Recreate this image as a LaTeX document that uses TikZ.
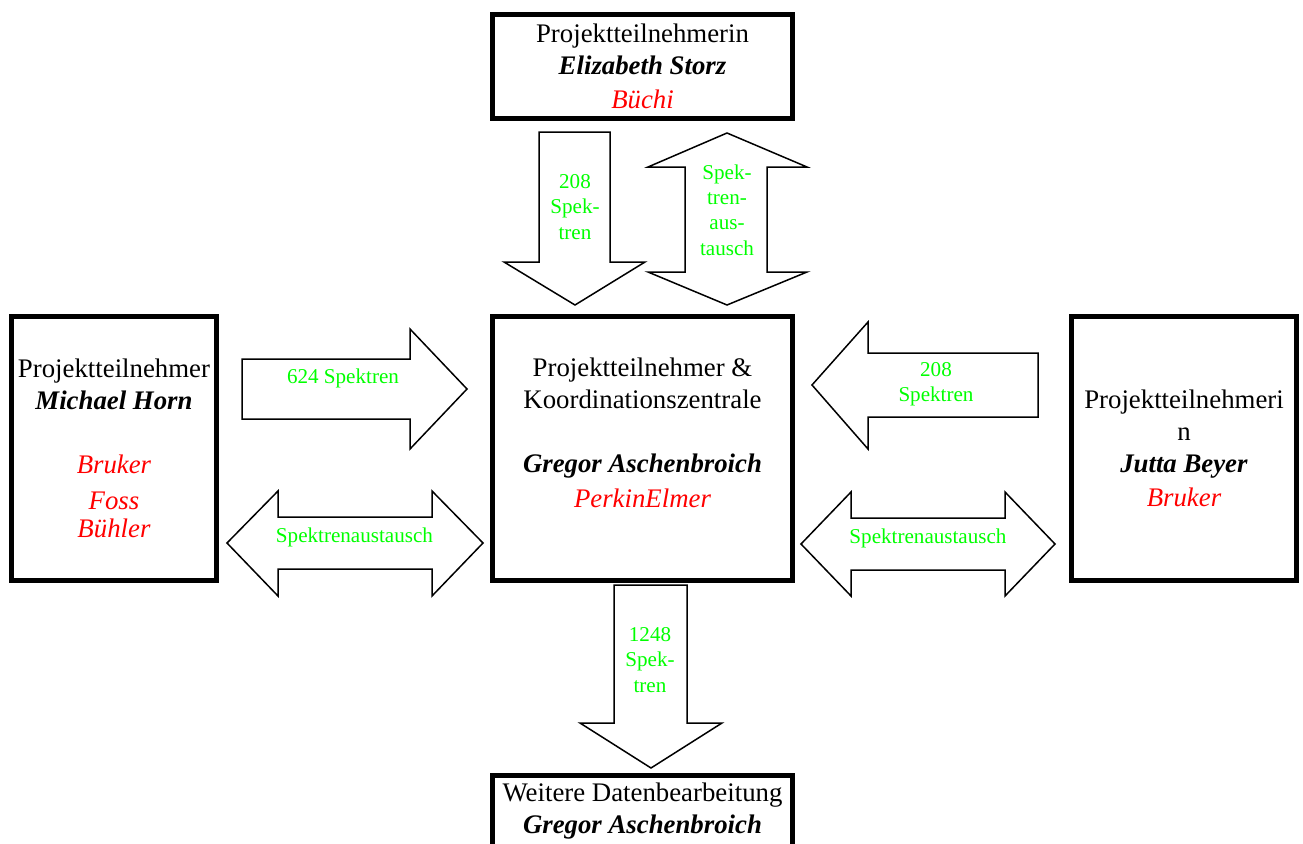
\documentclass[tikz,border=0pt]{standalone}
\usepackage{fontspec}
\setmainfont{Liberation Serif}
\usepackage{xcolor}
\usetikzlibrary{positioning}
\definecolor{kgruen}{HTML}{00FF00}
\definecolor{krot}{HTML}{FF0000}
\newcommand{\pname}[1]{\textbf{\textit{#1}}}
\newcommand{\firma}[1]{\textcolor{krot}{\textit{#1}}}
\tikzset{
  kasten/.style={rectangle, draw=black, line width=5pt, fill=white, align=center,
    inner sep=0pt, font=\fontsize{26.8}{32}\selectfont},
  pfeil/.style={draw=black, line width=1.5pt, fill=white, line join=miter},
  etk/.style={align=center, inner sep=0pt, text=kgruen,
    font=\fontsize{21.1}{25.3}\selectfont},
}

\begin{document}
\begin{tikzpicture}[x=1pt, y=-1pt]
  \useasboundingbox (0,0) rectangle (1303,843);
  \clip (0,0) rectangle (1303,843);
  % Kaesten
  \node[kasten, minimum width=300pt, minimum height=104pt] (storz) at (642.5,66.5)
    {Projektteilnehmerin\\ \pname{Elizabeth Storz}\\[2pt] \firma{Büchi}};
  \node[kasten, minimum width=300pt, minimum height=264pt] (zentrale) at (642.5,448.5)
    {Projektteilnehmer \&\\ Koordinationszentrale\\ \mbox{}\\ \pname{Gregor Aschenbroich}\\[3pt] \firma{PerkinElmer}\\ \mbox{}};
  \node[kasten, minimum width=205pt, minimum height=264pt] (horn) at (114,448.5)
    {Projektteilnehmer\\ \pname{Michael Horn}\\ \mbox{}\\ \firma{Bruker}\\[4pt] \firma{Foss}\\[-4pt] \firma{Bühler}};
  \node[kasten, minimum width=225pt, minimum height=264pt] (beyer) at (1184,448.5)
    {Projektteilnehmeri\\ n\\ \pname{Jutta Beyer}\\[2pt] \firma{Bruker}};
  \node[kasten, minimum width=300pt, minimum height=72pt] (weiter) at (642.5,811.5)
    {Weitere Datenbearbeitung\\ \pname{Gregor Aschenbroich}};
  % Blockpfeile
  \draw[pfeil] (539,132) -- (610,132) -- (610,262) -- (645,262) -- (575,305) -- (504,262) -- (539,262) -- cycle;
  \node[etk] (storzsp) at (575,207) {208\\ Spek-\\ tren};
  \draw[pfeil] (727,133) -- (807,167) -- (767,167) -- (767,272) -- (807,272) -- (727,305)
    -- (648,272) -- (685,272) -- (685,167) -- (648,167) -- cycle;
  \node[etk] (storzaus) at (727,210) {Spek-\\ tren-\\ aus-\\ tausch};
  \draw[pfeil] (242,359) -- (410,359) -- (410,329) -- (467,389) -- (410,449) -- (410,419) -- (242,419) -- cycle;
  \node[etk] (hornsp) at (343,378) {624 Spektren};
  \draw[pfeil] (227,543) -- (278,491) -- (278,517) -- (432,517) -- (432,491) -- (483,543)
    -- (432,596) -- (432,569) -- (278,569) -- (278,596) -- cycle;
  \node[etk] (hornaus) at (354.5,537) {Spektrenaustausch};
  \draw[pfeil] (812,385) -- (868,322) -- (868,353) -- (1038,353) -- (1038,417) -- (868,417) -- (868,449) -- cycle;
  \node[etk] (beyersp) at (936,384) {208\\ Spektren};
  \draw[pfeil] (801,544) -- (851,492) -- (851,518) -- (1005,518) -- (1005,492) -- (1055,544)
    -- (1005,596) -- (1005,570) -- (851,570) -- (851,596) -- cycle;
  \node[etk] (beyeraus) at (928,538) {Spektrenaustausch};
  \draw[pfeil] (614,585) -- (687,585) -- (687,723) -- (722,723) -- (651,768) -- (580,723) -- (614,723) -- cycle;
  \node[etk] (weitersp) at (650,660) {1248\\ Spek-\\ tren};
\end{tikzpicture}
\end{document}
